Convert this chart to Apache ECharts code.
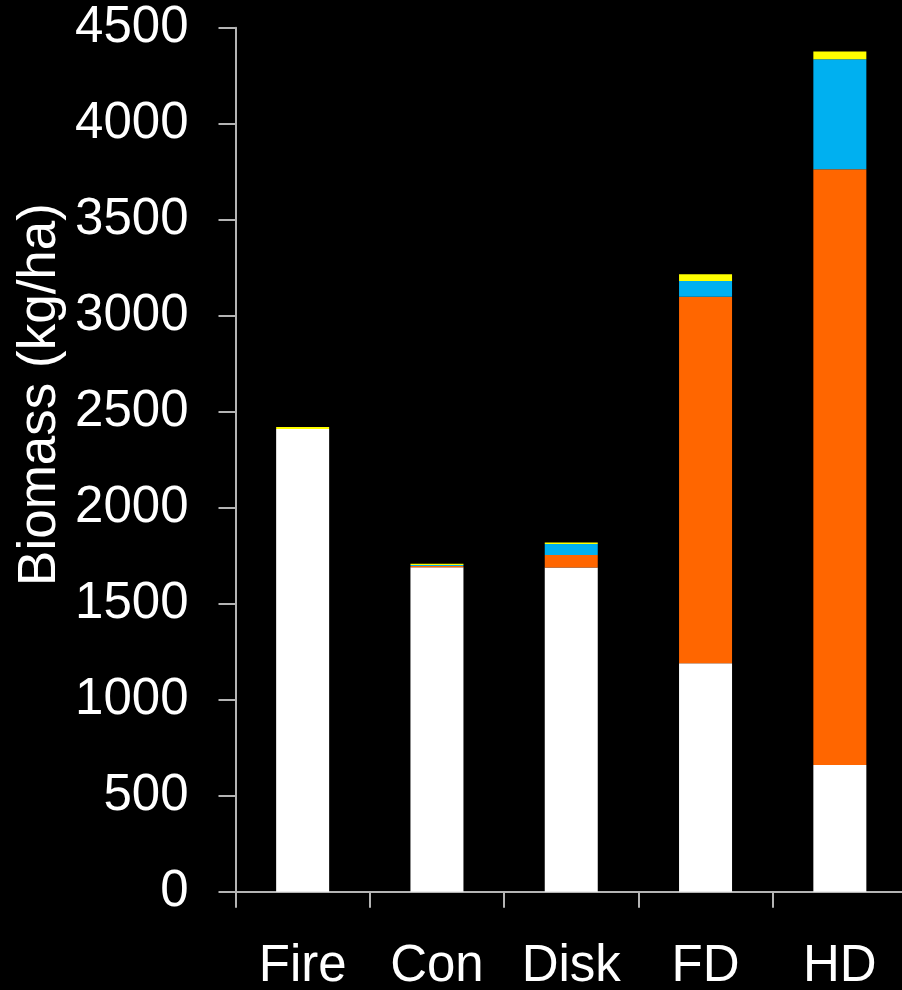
<!DOCTYPE html>
<html>
<head>
<meta charset="utf-8">
<script src="https://cdn.jsdelivr.net/npm/echarts@6/dist/echarts.min.js"></script>
<style>
html,body{margin:0;padding:0;background:#000;}
#c{width:902px;height:990px;}
</style>
</head>
<body>
<div id="c"></div>
<script>
var categories = ['Fire', 'Con', 'Disk', 'FD', 'HD'];
var whiteVals = [2410, 1690, 1688, 1190, 660];
var orangeVals = [0, 6, 66, 1909, 3103];
var blueVals = [0, 6, 57, 82, 573];
var yellowVals = [10, 6, 8, 35, 40];
var yTicks = [0, 500, 1000, 1500, 2000, 2500, 3000, 3500, 4000, 4500];
var yTitle = 'Biomass (kg/ha)';

var FONT = '"Liberation Sans", Arial, sans-serif';
var chart = echarts.init(document.getElementById('c'), null, {renderer: 'canvas'});

function mk(name, data, color) {
  return {
    name: name, type: 'bar', stack: 'total', data: data,
    barWidth: 53, itemStyle: {color: color}, silent: true
  };
}

chart.setOption({
  backgroundColor: '#000000',
  animation: false,
  grid: {left: 235.5, width: 671.5, top: 27.7, height: 864, containLabel: false, outerBoundsMode: 'none'},
  xAxis: {
    type: 'category', data: categories,
    axisLine: {lineStyle: {color: '#b4b4b4', width: 2}},
    axisTick: {show: true, length: 16, lineStyle: {color: '#b4b4b4', width: 2}},
    axisLabel: {color: '#ffffff', fontSize: 51, fontFamily: FONT, margin: 50, interval: 0}
  },
  yAxis: {
    type: 'value', min: 0, max: 4500, interval: 500,
    splitLine: {show: false},
    axisLine: {show: true, lineStyle: {color: '#b4b4b4', width: 2}},
    axisTick: {show: true, length: 17, lineStyle: {color: '#b4b4b4', width: 2}},
    axisLabel: {color: '#ffffff', fontSize: 51, fontFamily: FONT, margin: 47,
      formatter: function (v) { return yTicks.indexOf(v) >= 0 ? String(v) : ''; }}
  },
  graphic: [{
    type: 'text', x: 40, y: 394.5, rotation: Math.PI / 2,
    style: {text: yTitle, fill: '#ffffff', font: '53px ' + FONT, align: 'center', verticalAlign: 'middle'}
  }],
  series: [
    mk('white', whiteVals, '#ffffff'),
    mk('orange', orangeVals, '#ff6600'),
    mk('blue', blueVals, '#00b0f0'),
    mk('yellow', yellowVals, '#ffff00')
  ]
});
</script>
</body>
</html>
